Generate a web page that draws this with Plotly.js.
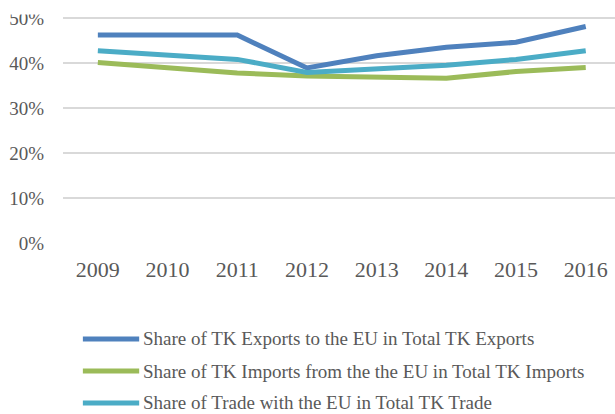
<!DOCTYPE html>
<html><head><meta charset="utf-8">
<script src="https://cdn.plot.ly/plotly-3.0.1.min.js"></script>
<style>html,body{margin:0;padding:0;overflow:hidden;background:#fff}</style>
</head><body><div id="chart" style="width:615px;height:414px"></div>
<script>
const years = ["2009","2010","2011","2012","2013","2014","2015","2016"];
const exportsShare = [0.462, 0.463, 0.462, 0.389, 0.416, 0.435, 0.446, 0.481];
const importsShare = [0.401, 0.390, 0.378, 0.371, 0.368, 0.366, 0.381, 0.390];
const tradeShare   = [0.427, 0.418, 0.408, 0.379, 0.386, 0.395, 0.408, 0.427];
const seriesNames = [
  "Share of TK Exports to the EU in Total TK Exports",
  "Share of TK Imports from the the EU in Total TK Imports",
  "Share of Trade with the EU in Total TK Trade"
];
const colors = ["#4F81BD", "#9BBB59", "#4BACC6"];
const values = [exportsShare, importsShare, tradeShare];

const traces = values.map((v, i) => ({
  x: years, y: v, type: "scatter", mode: "lines", name: seriesNames[i],
  line: {color: colors[i], width: 5}
}));
// manual legend (swatch + label) below the plot
const legendRows = [-0.395, -0.527, -0.658];
const shapes = seriesNames.map((n, i) => ({
  type: "line", xref: "paper", yref: "paper",
  x0: 0.036, x1: 0.138, y0: legendRows[i], y1: legendRows[i],
  line: {color: colors[i], width: 5}
}));
// the source image is cropped at the top, hiding the upper part of the "50%" label
shapes.push({type: "rect", xref: "paper", yref: "paper", layer: "above",
  x0: -0.12, x1: -0.02, y0: 0.94, y1: 1.02,
  fillcolor: "#ffffff", line: {width: 0}});
const annotations = seriesNames.map((n, i) => ({
  text: n, xref: "paper", yref: "paper", x: 0.141, y: legendRows[i],
  xanchor: "left", yanchor: "middle", showarrow: false,
  font: {family: "Liberation Serif, serif", size: 19, color: "#595959"}
}));
const layout = {
  width: 615, height: 414,
  margin: {l: 63, r: 0, t: 0, b: 171},
  paper_bgcolor: "#fff", plot_bgcolor: "#fff",
  font: {family: "Liberation Serif, serif", size: 19, color: "#595959"},
  showlegend: false,
  shapes: shapes, annotations: annotations,
  xaxis: {type: "category", range: [-0.5, 7.42], showgrid: false, zeroline: false,
          showline: false, ticks: "", ticklabelstandoff: 11, fixedrange: true,
          tickfont: {family: "Liberation Serif, serif", size: 22, color: "#595959"}},
  yaxis: {range: [0, 0.54], dtick: 0.1, tickformat: ".0%", gridcolor: "#D9D9D9", gridwidth: 1.5,
          zeroline: false, showline: false, ticks: "", ticklabelstandoff: 18, fixedrange: true}
};
Plotly.newPlot("chart", traces, layout, {displayModeBar: false, staticPlot: true});
</script></body></html>
